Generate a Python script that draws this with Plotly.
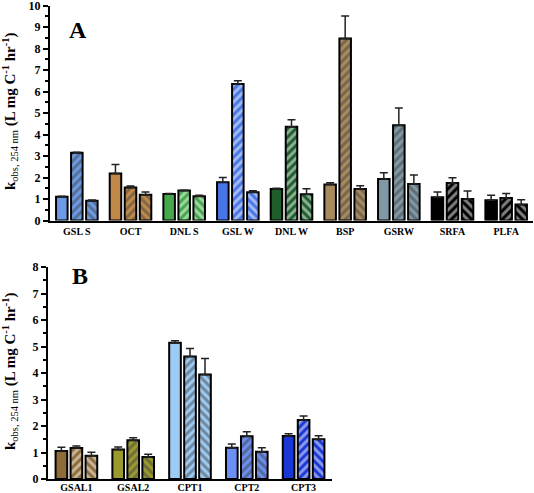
import plotly.graph_objects as go

# ---------------- Data ----------------
cats_a = ["GSL S", "OCT", "DNL S", "GSL W", "DNL W", "BSP", "GSRW", "SRFA", "PLFA"]
a_bar1 = [1.11, 2.19, 1.23, 1.78, 1.47, 1.68, 1.93, 1.08, 0.94]
a_bar2 = [3.15, 1.53, 1.39, 6.35, 4.36, 8.47, 4.43, 1.74, 1.05]
a_bar3 = [0.92, 1.20, 1.13, 1.31, 1.22, 1.47, 1.70, 1.00, 0.74]
a_err1 = [0.02, 0.42, 0.03, 0.22, 0.03, 0.08, 0.29, 0.25, 0.23]
a_err2 = [0.03, 0.08, 0.02, 0.15, 0.33, 1.04, 0.80, 0.25, 0.20]
a_err3 = [0.03, 0.12, 0.05, 0.07, 0.26, 0.15, 0.42, 0.37, 0.23]
a_colors = ["#6b9be6", "#c0894a", "#45a84c", "#4876e8", "#1e5e2c",
            "#a88a5e", "#8199a6", "#000000", "#000000"]

cats_b = ["GSAL1", "GSAL2", "CPT1", "CPT2", "CPT3"]
b_bar1 = [1.06, 1.11, 5.14, 1.18, 1.62]
b_bar2 = [1.17, 1.46, 4.62, 1.61, 2.23]
b_bar3 = [0.88, 0.83, 3.94, 1.03, 1.50]
b_err1 = [0.14, 0.10, 0.08, 0.14, 0.09]
b_err2 = [0.08, 0.10, 0.30, 0.17, 0.15]
b_err3 = [0.13, 0.10, 0.61, 0.15, 0.13]
b_colors = ["#8d6c3a", "#9a9a2e", "#9ccbf4", "#6b8ff2", "#1a36d4"]

yticks_a = list(range(0, 11))
yticks_b = list(range(0, 9))

W, H = 534, 493
FONT = "Liberation Serif"

fig = go.Figure()

shapes = ["", "/", "\\"]


def add_panel(cats, vals, errs, colors, xa, ya, width, step):
    for i, (v, e) in enumerate(zip(vals, errs)):
        center = (i - 1) * step
        fig.add_trace(go.Bar(
            x=cats, y=v, xaxis=xa, yaxis=ya,
            width=width, offset=center - width / 2,
            marker=dict(color=colors,
                        line=dict(color="black", width=2),
                        pattern=dict(shape=shapes[i], fgcolor="white",
                                     size=6, solidity=0.5)),
            error_y=dict(type="data", symmetric=False, array=e,
                         arrayminus=[0] * len(e), color="#222222",
                         thickness=1.5, width=4),
            showlegend=False, hoverinfo="skip",
        ))


add_panel(cats_a, [a_bar1, a_bar2, a_bar3], [a_err1, a_err2, a_err3],
          a_colors, "x", "y", 0.215, 0.28)
add_panel(cats_b, [b_bar1, b_bar2, b_bar3], [b_err1, b_err2, b_err3],
          b_colors, "x2", "y2", 0.205, 0.264)

axis_common = dict(showline=True, linecolor="black", linewidth=2,
                   showgrid=False, zeroline=False, automargin=False,
                   ticklabeloverflow="allow")


def bold(labels):
    return ["<b>%s</b>" % s for s in labels]


fig.update_layout(
    width=W, height=H,
    margin=dict(l=0, r=0, t=0, b=0),
    paper_bgcolor="white", plot_bgcolor="white",
    barmode="overlay",
    font=dict(family=FONT, color="black"),
    xaxis=dict(domain=[50 / W, 533 / W], anchor="y", type="category",
               categoryorder="array", categoryarray=cats_a,
               tickvals=cats_a, ticktext=bold(cats_a),
               range=[-0.5, 8.5], ticks="",
               tickfont=dict(family=FONT, size=10),
               **axis_common),
    yaxis=dict(domain=[1 - 220.5 / H, 1 - 5.5 / H], anchor="x",
               range=[0, 10], tickvals=yticks_a, ticktext=bold([str(t) for t in yticks_a]),
               ticks="outside", ticklen=5, tickwidth=2, tickcolor="black",
               minor=dict(dtick=0.5, ticks="outside", ticklen=3, tickwidth=1.5,
                          tickcolor="black", showgrid=False),
               tickfont=dict(family=FONT, size=12),
               **axis_common),
    xaxis2=dict(domain=[48 / W, 332 / W], anchor="y2", type="category",
                categoryorder="array", categoryarray=cats_b,
                tickvals=cats_b, ticktext=bold(cats_b),
                range=[-0.5, 4.5], ticks="", ticklabelstandoff=-2,
                tickfont=dict(family=FONT, size=10),
                **axis_common),
    yaxis2=dict(domain=[1 - 479 / H, 1 - 267 / H], anchor="x2",
                range=[0, 8], tickvals=yticks_b, ticktext=bold([str(t) for t in yticks_b]),
                ticks="outside", ticklen=5, tickwidth=2, tickcolor="black",
                minor=dict(dtick=0.5, ticks="outside", ticklen=3, tickwidth=1.5,
                           tickcolor="black", showgrid=False),
                tickfont=dict(family=FONT, size=12),
                **axis_common),
)

title = "<b>k</b><sub>obs, 254 nm</sub><b> (L mg C<sup>-1</sup> hr<sup>-1</sup>)</b>"
for yc in [1 - 112 / H, 1 - 372 / H]:
    fig.add_annotation(text=title, xref="paper", yref="paper", x=10 / W, y=yc,
                       xanchor="center", yanchor="middle",
                       textangle=-90, showarrow=False,
                       font=dict(family=FONT, size=15, color="black"))

fig.add_annotation(text="<b>A</b>", xref="paper", yref="paper", x=67 / W, y=1 - 15 / H,
                   showarrow=False, font=dict(family=FONT, size=24, color="black"))
fig.add_annotation(text="<b>B</b>", xref="paper", yref="paper", x=70 / W, y=1 - 276 / H,
                   showarrow=False, font=dict(family=FONT, size=24, color="black"))

fig.write_html("out.html", config={"displayModeBar": False},
               post_script="document.body.style.margin='0';document.body.style.overflow='hidden';")
